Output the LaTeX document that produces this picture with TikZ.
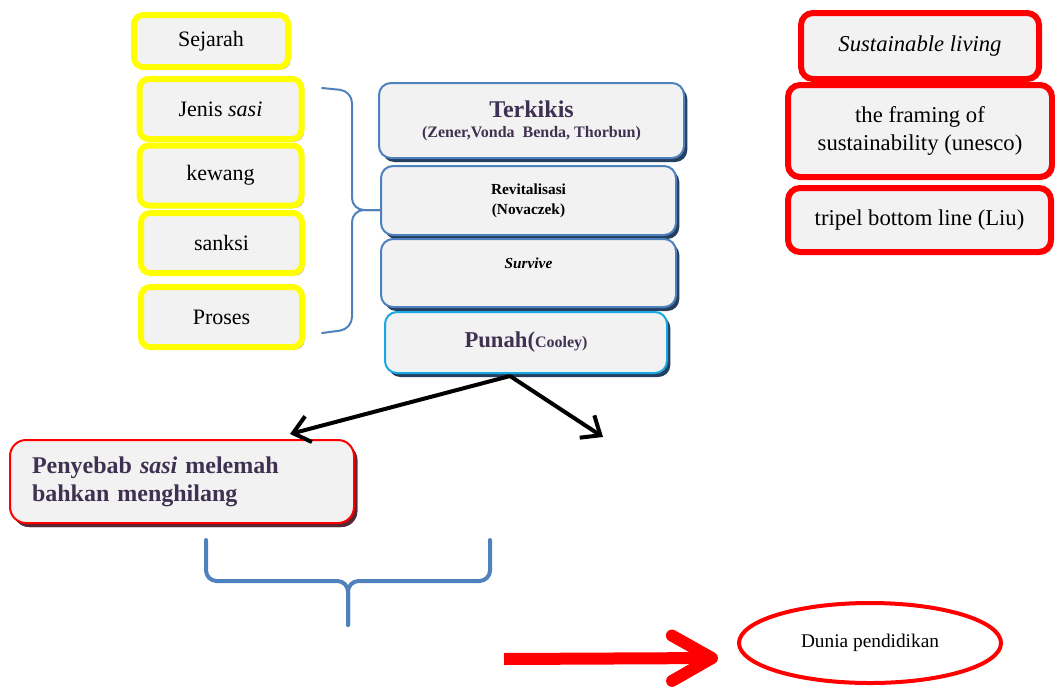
\documentclass[tikz,border=0pt]{standalone}
\usepackage{fontspec}
\setmainfont{Liberation Serif}
\usepackage{xcolor}
\usetikzlibrary{shapes.geometric,shadows,arrows.meta}

\definecolor{boxgray}{HTML}{F2F2F2}
\definecolor{sasiyellow}{HTML}{FFFF00}
\definecolor{sasired}{HTML}{FF0000}
\definecolor{sasiblue}{HTML}{4F81BD}
\definecolor{sasicyan}{HTML}{17A9E0}
\definecolor{sasipurple}{HTML}{3F3151}
\definecolor{navyshade}{HTML}{243F60}
\definecolor{pinkshade}{HTML}{B9A3A8}
\definecolor{wineshade}{HTML}{5A2535}

\tikzset{
  yellowbox/.style={draw=sasiyellow, line width=4.5pt, fill=boxgray, rounded corners=7pt,
    minimum width=121.5pt, minimum height=45pt, inner sep=0pt, font=\fontsize{16.5}{20}\selectfont,
    drop shadow={shadow xshift=2pt, shadow yshift=-2pt, fill=pinkshade, opacity=0.7}},
  bluebox/.style={draw=sasiblue, line width=1.5pt, fill=boxgray, rounded corners=9pt,
    inner sep=0pt, align=center,
    drop shadow={shadow xshift=2.5pt, shadow yshift=-3pt, fill=navyshade, opacity=1}},
  redbox/.style={draw=sasired, line width=4.5pt, fill=boxgray, rounded corners=9pt,
    inner sep=0pt, align=center, font=\fontsize{17}{20.5}\selectfont,
    drop shadow={shadow xshift=2pt, shadow yshift=-2pt, fill=pinkshade, opacity=0.7}},
  bracket/.style={draw=sasiblue, line cap=round},
  forkarrow/.style={draw=black, line width=3pt, -{Straight Barb[length=12pt,width=20pt]}},
}

\begin{document}
\begin{tikzpicture}[x=0.75pt,y=0.75pt,yscale=-1,xscale=1]
\useasboundingbox (0,0) rectangle (1055,689);

\draw (211,41) node [yellowbox, minimum width=115.5pt, minimum height=39pt] (sejarah) {Sejarah};
\draw (220.5,109) node [yellowbox] (jenis) {Jenis \textit{sasi}};
\draw (220.5,175.5) node [yellowbox] (kewang) {kewang};
\draw (221.5,243) node [yellowbox, minimum width=120.75pt] (sanksi) {sanksi};
\draw (221.5,317) node [yellowbox, minimum width=120.75pt] (proses) {Proses};

\draw (531.5,120.5) node [bluebox, minimum width=228.75pt, minimum height=56.25pt, text=sasipurple, font=\bfseries] (terkikis)
  {{\fontsize{18}{22}\selectfont Terkikis}\\[3pt]{\fontsize{12}{14}\selectfont (Zener,Vonda~~Benda, Thorbun)}};
\draw (528.5,200.5) node [bluebox, minimum width=221.25pt, minimum height=51.75pt, font=\fontsize{11.5}{15}\selectfont\bfseries] (revit)
  {Revitalisasi\\(Novaczek)};
\draw (528.5,273) node [bluebox, minimum width=221.25pt, minimum height=51pt, font=\fontsize{11.5}{14}\selectfont\bfseries\itshape] (survive)
  {Survive\\~};
\draw (526,342.5) node [bluebox, draw=sasicyan, minimum width=211.5pt, minimum height=45.75pt, text=sasipurple, font=\bfseries] (punah)
  {{\fontsize{17}{20}\selectfont Punah(}{\fontsize{12}{14}\selectfont Cooley)}};

\draw (920,46) node [redbox, minimum width=178.5pt, minimum height=49.5pt] (sustain) {\textit{Sustainable living}};
\draw (920,131) node [redbox, minimum width=198pt, minimum height=69pt] (framing) {the framing of\\sustainability (unesco)};
\draw (919.5,220) node [redbox, minimum width=197.25pt, minimum height=48pt] (tripel) {tripel bottom line (Liu)};

\draw (182,481.5) node [bluebox, draw=sasired, rounded corners=12pt, minimum width=258pt, minimum height=62.25pt,
  text width=225pt, align=left, text=sasipurple, font=\fontsize{18}{21}\selectfont\bfseries,
  drop shadow={shadow xshift=2.5pt, shadow yshift=-3pt, fill=wineshade, opacity=1}] (penyebab)
  {Penyebab \textit{sasi} melemah\\bahkan menghilang};

\draw (870,643) node [ellipse, draw=sasired, line width=3pt, minimum width=196.5pt, minimum height=60pt,
  font=\fontsize{14.5}{17}\selectfont] (dunia) {Dunia pendidikan};

\draw [bracket, line width=1.5pt, rounded corners=9pt] (322,88) -- (352,91) -- (352,210) -- (revit.west |- 0,210);
\draw [bracket, line width=1.5pt, rounded corners=9pt] (revit.west |- 0,210) -- (352,210) -- (352,329) -- (322,333);

\coordinate (bracetip) at (348,625);
\draw [bracket, line width=3pt, rounded corners=8pt] (206,540) -- (206,581) -- (bracetip |- 0,581) -- (bracetip);
\draw [bracket, line width=3pt, rounded corners=8pt] (490,540) -- (490,581) -- (bracetip |- 0,581) -- (bracetip);

\coordinate (fork) at (510,376);
\coordinate (leftend) at (290,434);
\coordinate (rightend) at (603,437);
\draw [forkarrow] (fork) -- (leftend);
\draw [forkarrow] (fork) -- (rightend);

\coordinate (redstart) at (504,659);
\coordinate (redtip) at (718,658);
\draw [draw=sasired, line width=9pt, -{Straight Barb[length=30pt,width=34pt,round]}] (redstart) -- (redtip);
\end{tikzpicture}
\end{document}
